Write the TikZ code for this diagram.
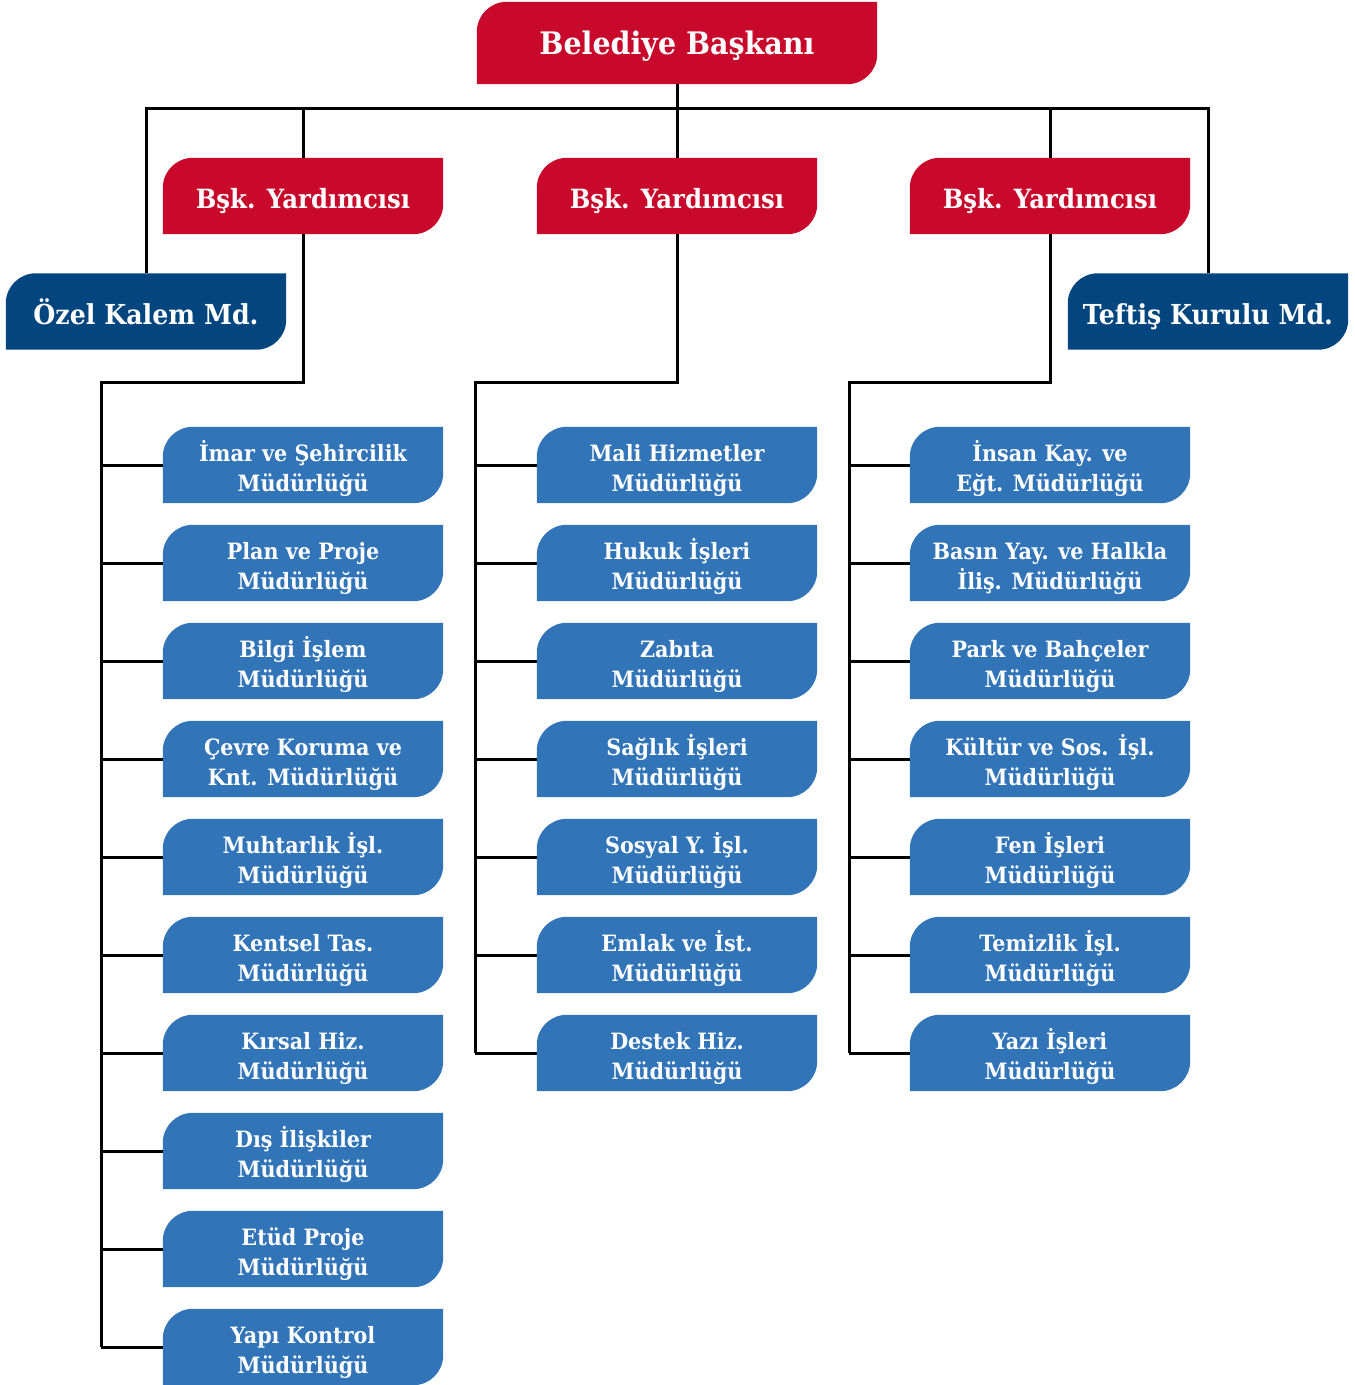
\documentclass[tikz,border=0pt]{standalone}
\usepackage{fontspec}
\setmainfont{DejaVu Serif}[FakeStretch=0.92]
\usetikzlibrary{backgrounds}

\definecolor{kirmizi}{HTML}{C8092B}
\definecolor{lacivert}{HTML}{03467F}
\definecolor{mavi}{HTML}{3174B8}

% kutu: sol ust ve sag alt koseleri yuvarlak
\newcommand{\kutu}[2]{%
  \fill[#2] (#1.south west) -- ([yshift=-30pt]#1.north west)
    arc[start angle=180,end angle=90,radius=30pt] -- (#1.north east)
    -- ([yshift=30pt]#1.south east)
    arc[start angle=0,end angle=-90,radius=30pt] -- cycle;}

\begin{document}
\begin{tikzpicture}[x=1pt,y=-1pt]
\tikzset{baslik/.style={text=white,font=\bfseries\fontsize{26.5}{30}\selectfont,
  minimum width=280pt,minimum height=76pt,inner sep=0pt,text height=25pt,text depth=0pt},
birim/.style={text=white,font=\bfseries\fontsize{22.5}{30}\selectfont,align=center,
  minimum width=280pt,minimum height=76pt,inner sep=0pt,text height=52pt,text depth=0pt},
hat/.style={line width=3pt}}
\useasboundingbox (0,0) rectangle (1355,1385);

\node[baslik,minimum width=400pt,minimum height=82pt,text height=22pt,font=\bfseries\fontsize{31}{34}\selectfont] (bb) at (677,43) {Belediye Başkanı};
\node[baslik] (y1) at (303,196) {Bşk. Yardımcısı};
\node[baslik] (y2) at (677,196) {Bşk. Yardımcısı};
\node[baslik] (y3) at (1050,196) {Bşk. Yardımcısı};
\node[baslik,font=\bfseries\fontsize{27.5}{30}\selectfont] (ok) at (146,311.5) {Özel Kalem Md.};
\node[baslik,font=\bfseries\fontsize{27.5}{30}\selectfont] (tk) at (1208,311.5) {Teftiş Kurulu Md.};

% mudurlukler
\foreach \t [count=\i] in {İmar ve Şehircilik\\Müdürlüğü, Plan ve Proje\\Müdürlüğü,
  Bilgi İşlem\\Müdürlüğü, Çevre Koruma ve\\Knt. Müdürlüğü, Muhtarlık İşl.\\Müdürlüğü,
  Kentsel Tas.\\Müdürlüğü, Kırsal Hiz.\\Müdürlüğü, Dış İlişkiler\\Müdürlüğü,
  Etüd Proje\\Müdürlüğü, Yapı Kontrol\\Müdürlüğü}
  \node[birim] (a\i) at (303,{465+98*(\i-1)}) {\t};
\foreach \t [count=\i] in {Mali Hizmetler\\Müdürlüğü, Hukuk İşleri\\Müdürlüğü,
  Zabıta\\Müdürlüğü, Sağlık İşleri\\Müdürlüğü, Sosyal Y. İşl.\\Müdürlüğü,
  Emlak ve İst.\\Müdürlüğü, Destek Hiz.\\Müdürlüğü}
  \node[birim] (b\i) at (677,{465+98*(\i-1)}) {\t};
\foreach \t [count=\i] in {İnsan Kay. ve\\Eğt. Müdürlüğü, Basın Yay. ve Halkla\\İliş. Müdürlüğü,
  Park ve Bahçeler\\Müdürlüğü, Kültür ve Sos. İşl.\\Müdürlüğü, Fen İşleri\\Müdürlüğü,
  Temizlik İşl.\\Müdürlüğü, Yazı İşleri\\Müdürlüğü}
  \node[birim] (c\i) at (1050,{465+98*(\i-1)}) {\t};

\begin{pgfonlayer}{background}
\foreach \n in {bb,y1,y2,y3} \kutu{\n}{kirmizi};
\foreach \n in {ok,tk} \kutu{\n}{lacivert};
\foreach \i in {1,...,10} \kutu{a\i}{mavi};
\foreach \i in {1,...,7} {\kutu{b\i}{mavi} \kutu{c\i}{mavi}}
\end{pgfonlayer}

% baglantilar
\coordinate (bus) at (0,108);
\coordinate (ka) at (101,382);
\coordinate (kb) at (475,382);
\coordinate (kc) at (849,382);
\draw[hat] (bb.south) -- (y2.north);
\draw[hat] (ok.north) -- (ok.north |- bus) -- (tk.north |- bus) -- (tk.north);
\draw[hat] (y1.north) -- (y1.north |- bus);
\draw[hat] (y3.north) -- (y3.north |- bus);

\draw[hat] (y1.south) -- (y1.south |- ka) -- (ka) -- (ka |- a10.west);
\draw[hat] (y2.south) -- (y2.south |- kb) -- (kb) -- (kb |- b7.west);
\draw[hat] (y3.south) -- (y3.south |- kc) -- (kc) -- (kc |- c7.west);
\foreach \i in {1,...,10} \draw[hat] (ka |- a\i.west) -- (a\i.west);
\foreach \i in {1,...,7} {
  \draw[hat] (kb |- b\i.west) -- (b\i.west);
  \draw[hat] (kc |- c\i.west) -- (c\i.west);}
\end{tikzpicture}
\end{document}
